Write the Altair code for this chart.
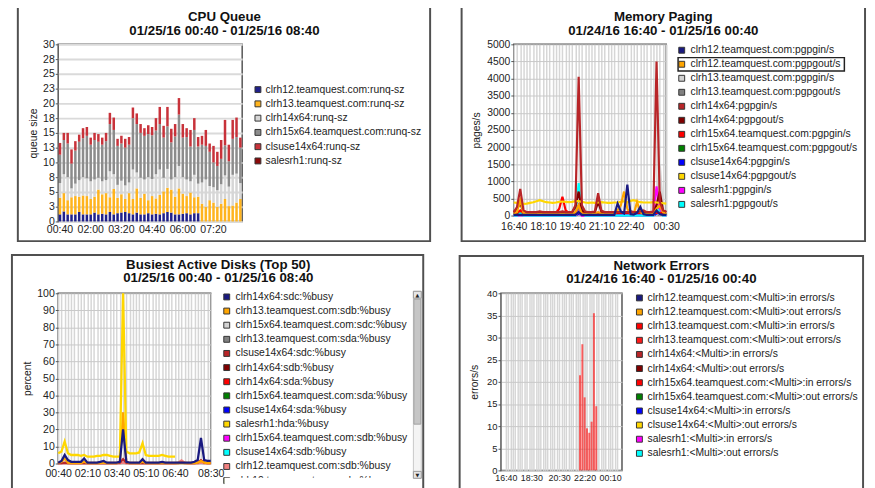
import altair as alt
import pandas as pd
from datetime import datetime, timedelta

FONT = "Liberation Sans"

# ---------------------------------------------------------------- CPU Queue
cpu_series = ["clrh12.teamquest.com:runq-sz", "clrh13.teamquest.com:runq-sz", "clrh14x64:runq-sz",
              "clrh15x64.teamquest.com:runq-sz", "clsuse14x64:runq-sz", "salesrh1:runq-sz"]
cpu_colors = ["#20208a", "#ffb41e", "#d6d6d6", "#8c8c8c", "#c8323a", "#8b0a0a"]
cpu_y_ticks = [0, 2.5, 5, 7.5, 10, 12.5, 15, 17.5, 20, 22.5, 25, 27.5, 30]
cpu_x_labels = ["00:40", "02:00", "03:20", "04:40", "06:00", "07:20"]
# cumulative tops of each stacked segment
cpu_clrh12_top = [1.2, 1.7, 1.2, 1.2, 1.2, 1.6, 1.2, 1.2, 1.2, 1.5, 1.2, 1.3, 1.2, 1.6, 1.2, 1.4,
                  1.5, 1.6, 1.4, 1.2, 1.5, 1.2, 1.2, 1.4, 1.2, 1.3, 1.2, 1.4, 1.6, 1.5, 1.2, 1.2,
                  1.3, 1.4, 1.2, 1.4, 1.4, 0, 0, 0, 0, 0, 0, 0, 0, 0, 0, 0]
cpu_clrh13_top = [4.0, 4.8, 3.6, 4.1, 4.3, 4.2, 4.4, 4.3, 3.8, 4.2, 5.4, 4.6, 4.8, 4.1, 5.5, 4.0,
                  4.6, 3.8, 4.8, 3.8, 5.6, 4.0, 4.7, 3.6, 4.3, 3.9, 4.5, 5.1, 5.7, 5.4, 4.2, 5.6,
                  4.7, 4.3, 4.9, 4.1, 4.2, 3.0, 2.5, 3.6, 3.2, 2.5, 3.0, 3.8, 2.6, 2.7, 3.2, 3.8]
cpu_clrh14_top = [6.5, 8.0, 7.5, 5.6, 6.4, 7.0, 7.5, 7.3, 6.8, 7.1, 7.4, 6.8, 7.0, 8.5, 8.0, 6.2,
                  6.9, 6.1, 6.6, 8.8, 8.3, 7.4, 7.1, 7.5, 7.2, 8.0, 8.8, 7.4, 8.9, 7.1, 7.5, 9.4,
                  7.5, 7.1, 6.8, 7.9, 6.4, 6.6, 7.1, 6.0, 5.8, 5.3, 6.3, 7.8, 5.9, 7.9, 8.1, 6.5]
cpu_clrh15_top = [11.3, 13.8, 13.2, 9.8, 12.0, 13.5, 14.1, 14.5, 13.0, 13.8, 13.5, 13.0, 13.6, 16.5, 15.5, 12.8,
                  13.2, 12.5, 13.0, 17.5, 16.5, 15.0, 14.5, 14.8, 14.6, 15.4, 16.5, 14.2, 16.1, 13.4, 14.4, 18.1,
                  14.2, 14.3, 12.7, 15.5, 12.7, 13.0, 12.8, 11.8, 10.0, 9.4, 10.6, 12.9, 10.2, 14.0, 14.3, 12.5]
cpu_clsuse_top = [13.3, 15.0, 15.0, 12.2, 13.6, 14.7, 15.8, 16.0, 14.2, 15.0, 14.8, 14.2, 15.0, 18.4, 17.6, 14.0,
                  14.5, 14.0, 14.3, 19.3, 18.3, 16.5, 15.8, 16.3, 16.0, 17.5, 19.4, 16.2, 19.4, 15.7, 16.5, 20.9,
                  16.5, 15.8, 15.5, 17.5, 14.3, 14.5, 15.5, 13.2, 12.8, 11.8, 13.8, 17.2, 13.0, 17.2, 17.6, 14.2]

# ---------------------------------------------------------------- Memory Paging
mem_series = ["clrh12.teamquest.com:pgpgin/s", "clrh12.teamquest.com:pgpgout/s", "clrh13.teamquest.com:pgpgin/s",
              "clrh13.teamquest.com:pgpgout/s", "clrh14x64:pgpgin/s", "clrh14x64:pgpgout/s",
              "clrh15x64.teamquest.com:pgpgin/s", "clrh15x64.teamquest.com:pgpgout/s", "clsuse14x64:pgpgin/s",
              "clsuse14x64:pgpgout/s", "salesrh1:pgpgin/s", "salesrh1:pgpgout/s"]
mem_colors = ["#1a1a80", "#ffa500", "#d3d3d3", "#808080", "#b82528", "#800000",
              "#ff0000", "#008000", "#0000ff", "#ffd700", "#ff00ff", "#00ffff"]
mem_y_ticks = [0, 500, 1000, 1500, 2000, 2500, 3000, 3500, 4000, 4500, 5000]
mem_x_labels = ["16:40", "18:10", "19:40", "21:10", "22:40", "00:30"]
mem_values = {
    "clrh12.teamquest.com:pgpgin/s": [20, 20, 20, 20, 20, 20, 20, 20, 20, 20, 20, 20, 20, 20, 20, 20, 20, 20, 20, 20,
                                      100, 20, 20, 20, 20, 20, 20, 20, 20, 20, 20, 20, 350, 120, 60, 900, 40, 30, 80, 250,
                                      40, 20, 20, 20, 150, 40, 20, 20],
    "clrh12.teamquest.com:pgpgout/s": [50, 100, 450, 80, 50, 50, 50, 50, 50, 50, 50, 50, 50, 50, 50, 50, 50, 50, 50, 100,
                                       300, 50, 50, 50, 50, 50, 100, 50, 50, 50, 50, 50, 150, 300, 700, 200, 50, 50, 400, 100,
                                       50, 50, 50, 50, 200, 300, 100, 50],
    "clrh13.teamquest.com:pgpgin/s": [10, 10, 60, 10, 10, 10, 10, 10, 10, 10, 10, 10, 10, 10, 10, 10, 10, 10, 10, 10,
                                      250, 10, 10, 10, 10, 10, 80, 10, 10, 10, 10, 10, 10, 10, 10, 10, 10, 10, 10, 10,
                                      10, 10, 10, 10, 300, 1500, 200, 10],
    "clrh13.teamquest.com:pgpgout/s": [5, 5, 40, 5, 5, 5, 5, 5, 5, 5, 5, 5, 5, 5, 5, 5, 5, 5, 5, 5,
                                       150, 5, 5, 5, 5, 5, 50, 5, 5, 5, 5, 5, 5, 5, 5, 5, 5, 5, 5, 5,
                                       5, 5, 5, 5, 150, 300, 80, 5],
    "clrh14x64:pgpgin/s": [100, 250, 780, 150, 100, 100, 100, 100, 120, 100, 100, 100, 100, 100, 100, 120, 100, 100, 100, 300,
                           4050, 300, 120, 100, 100, 120, 650, 150, 100, 100, 100, 100, 100, 100, 100, 100, 100, 100, 100, 120,
                           150, 100, 100, 120, 4500, 400, 150, 120],
    "clrh14x64:pgpgout/s": [100, 200, 350, 120, 100, 100, 100, 100, 100, 100, 100, 100, 100, 100, 100, 100, 100, 100, 100, 250,
                            700, 150, 100, 100, 100, 100, 400, 120, 100, 100, 100, 100, 100, 100, 100, 100, 120, 100, 100, 100,
                            100, 100, 100, 100, 300, 700, 150, 100],
    "clrh15x64.teamquest.com:pgpgin/s": [80, 80, 150, 80, 80, 80, 80, 80, 80, 80, 80, 80, 80, 80, 200, 550, 150, 80, 80, 80,
                                         300, 80, 80, 80, 80, 80, 80, 80, 80, 80, 80, 80, 80, 80, 80, 80, 80, 80, 80, 80,
                                         80, 80, 80, 80, 80, 80, 80, 80],
    "clrh15x64.teamquest.com:pgpgout/s": [30, 30, 60, 30, 30, 30, 30, 30, 30, 30, 30, 30, 30, 30, 30, 30, 30, 30, 30, 30,
                                          80, 30, 30, 30, 30, 30, 40, 30, 30, 30, 30, 30, 40, 50, 60, 40, 30, 30, 40, 30,
                                          30, 30, 30, 30, 80, 120, 60, 30],
    "clsuse14x64:pgpgin/s": [10, 10, 20, 10, 10, 10, 10, 10, 10, 10, 10, 10, 10, 10, 10, 10, 10, 10, 10, 10,
                             50, 10, 10, 10, 10, 10, 10, 10, 10, 10, 10, 10, 10, 10, 10, 10, 10, 10, 10, 10,
                             10, 10, 10, 10, 60, 80, 20, 10],
    "clsuse14x64:pgpgout/s": [380, 370, 350, 340, 350, 370, 390, 420, 450, 420, 390, 380, 370, 380, 400, 410, 400, 390, 400, 420,
                              420, 400, 380, 370, 380, 370, 380, 390, 380, 370, 370, 380, 380, 400, 420, 380, 430, 450, 420, 390,
                              380, 380, 380, 390, 380, 370, 360, 350],
    "salesrh1:pgpgin/s": [0, 0, 20, 0, 0, 0, 0, 0, 0, 0, 0, 0, 0, 0, 0, 0, 0, 0, 0, 0,
                          100, 0, 0, 0, 0, 0, 0, 0, 0, 0, 0, 0, 0, 0, 0, 0, 0, 0, 0, 0,
                          0, 0, 0, 0, 850, 200, 0, 0],
    "salesrh1:pgpgout/s": [0, 0, 50, 0, 0, 0, 0, 0, 0, 0, 0, 0, 0, 0, 0, 0, 0, 0, 0, 0,
                           950, 100, 0, 0, 0, 0, 0, 0, 0, 0, 0, 0, 0, 0, 0, 0, 0, 0, 0, 0,
                           0, 0, 0, 0, 200, 100, 0, 0],
}
mem_draw_order = [2, 3, 7, 8, 10, 11, 6, 5, 9, 1, 4, 0]

# ---------------------------------------------------------------- Busiest Active Disks
disk_series = ["clrh14x64:sdc:%busy", "clrh13.teamquest.com:sdb:%busy", "clrh15x64.teamquest.com:sdc:%busy",
               "clrh13.teamquest.com:sda:%busy", "clsuse14x64:sdc:%busy", "clrh14x64:sdb:%busy",
               "clrh14x64:sda:%busy", "clrh15x64.teamquest.com:sda:%busy", "clsuse14x64:sda:%busy",
               "salesrh1:hda:%busy", "clrh15x64.teamquest.com:sdb:%busy", "clsuse14x64:sdb:%busy",
               "clrh12.teamquest.com:sdb:%busy", "clrh12.teamquest.com:sda:%busy"]
disk_colors = ["#1a1a80", "#ffa500", "#d3d3d3", "#808080", "#b82528", "#800000", "#ff0000", "#008000",
               "#0000ff", "#ffd700", "#ff00ff", "#00ffff", "#f08080", "#556b2f"]
disk_y_ticks = [0, 10, 20, 30, 40, 50, 60, 70, 80, 90, 100]
disk_x_labels = ["00:40", "02:10", "03:40", "05:10", "06:40", "08:30"]
disk_values = {
    "clrh12.teamquest.com:sdb:%busy": [0.1, 0.1, 0.1, 0.1, 0.1, 0.1, 0.1, 0.1, 0.1, 0.1, 0.1, 0.1, 0.1, 0.1, 0.1, 0.1,
                                       0.1, 0.1, 0.1, 0.1, 0.5, 0.1, 0.1, 0.1, 0.1, 0.1, 0.1, 0.1, 0.1, 0.1, 0.1, 0.1,
                                       0.1, 0.1, 0.1, 0.1, 0.1, 0.5, 1.8, 0.5, 0.1, 0.1, 0.1, 0.1, 0.5, 0.1, 0.1, 0.1],
    "clsuse14x64:sdc:%busy": [0.2, 0.2, 0.5, 0.2, 0.2, 0.2, 0.2, 0.2, 0.2, 0.2, 0.2, 0.2, 0.2, 0.2, 0.2, 0.2,
                              0.2, 0.2, 0.2, 0.5, 2.5, 0.5, 0.2, 0.2, 0.2, 0.2, 0.2, 0.2, 0.2, 0.2, 0.2, 0.2,
                              0.2, 0.2, 0.2, 0.2, 0.2, 0.2, 0.5, 0.2, 0.2, 0.2, 0.2, 0.5, 2.0, 0.5, 0.2, 0.2],
    "clrh13.teamquest.com:sdb:%busy": [0.3, 1, 3, 0.5, 0.3, 0.3, 0.3, 0.3, 1, 0.3, 0.3, 0.3, 0.3, 0.3, 0.5, 0.3,
                                       0.3, 0.3, 0.3, 1, 30, 1, 0.3, 0.3, 0.3, 0.3, 1, 0.3, 0.3, 0.3, 0.3, 0.3,
                                       0.3, 0.3, 0.3, 0.3, 0.3, 0.3, 0.3, 0.3, 0.3, 0.3, 0.3, 0.5, 1.5, 0.5, 0.3, 0.3],
    "salesrh1:hda:%busy": [6, 7, 13, 6, 5, 5, 5, 4.5, 5, 4, 4, 4, 4.5, 4.5, 5, 5,
                           4.5, 4, 4, 4, 100, 7, 6, 6, 6, 6.5, 12, 5, 4.5, 4.5, 4.5, 4.5,
                           5, 4.5, 4, 4, 4, None, None, None, None, None, None, None, None, None, None, None],
    "clrh14x64:sdc:%busy": [0.5, 1.5, 5, 2, 1, 1, 1, 1, 3, 0.5, 0.5, 0.5, 0.5, 1, 1.5, 0.5,
                            0.5, 0.5, 0.5, 1, 20, 1, 0.5, 0.5, 0.5, 0.5, 2.5, 0.5, 0.5, 0.5, 0.5, 0.5,
                            1, 0.5, 0.5, 0.5, 0.5, 0.5, 0.5, 0.5, 0.5, 0.5, 1, 2, 15, 2, 1.5, 1.5],
}

# ---------------------------------------------------------------- Network Errors
net_series = ["clrh12.teamquest.com:<Multi>:in errors/s", "clrh12.teamquest.com:<Multi>:out errors/s",
              "clrh13.teamquest.com:<Multi>:in errors/s", "clrh13.teamquest.com:<Multi>:out errors/s",
              "clrh14x64:<Multi>:in errors/s", "clrh14x64:<Multi>:out errors/s",
              "clrh15x64.teamquest.com:<Multi>:in errors/s", "clrh15x64.teamquest.com:<Multi>:out errors/s",
              "clsuse14x64:<Multi>:in errors/s", "clsuse14x64:<Multi>:out errors/s",
              "salesrh1:<Multi>:in errors/s", "salesrh1:<Multi>:out errors/s"]
net_colors = ["#1a1a80", "#ffa500", "#ff0000", "#ff1a1a", "#b82528", "#800000",
              "#ff0000", "#008000", "#0000ff", "#ffd700", "#ff00ff", "#00ffff"]
net_y_ticks = [0, 5, 10, 15, 20, 25, 30, 35, 40]
net_x_labels = ["16:40", "18:30", "20:30", "22:20", "00:10"]
net_bar_times = ["22:00", "22:10", "22:20", "22:30", "22:40", "22:50", "23:00", "23:10"]
net_bar_values = [21.5, 28.5, 16.5, 9.5, 8.5, 11.0, 35.5, 14.5]


# ================================================================ helpers
def times_from(start, n):
    return [start + timedelta(minutes=10 * i) for i in range(n)]


def dt(d):
    return alt.DateTime(year=d.year, month=d.month, date=d.day, hours=d.hour, minutes=d.minute)


def iso(d):
    return d.strftime("%Y-%m-%dT%H:%M:00")


def label_expr(labels):
    arr = "[" + ",".join("'%s'" % s for s in labels) + "]"
    f = "timeFormat(datum.value, '%H:%M')"
    return "indexof(%s, %s) >= 0 ? %s : ''" % (arr, f, f)


ONE = pd.DataFrame({"k": [0]})


def frame(box, origin, titles):
    ox, oy = origin
    layers = [alt.Chart(ONE).mark_rect(fillOpacity=0, stroke="#505050", strokeWidth=2).encode(
        x=alt.value(box[0] - ox), x2=alt.value(box[2] - ox),
        y=alt.value(box[1] - oy), y2=alt.value(box[3] - oy))]
    for txt, tx, ty in titles:
        layers.append(alt.Chart(ONE).mark_text(font=FONT, fontSize=13.5, fontWeight="bold", color="#111",
                                               baseline="middle", align="center").encode(
            x=alt.value(tx - ox), y=alt.value(ty - oy), text=alt.value(txt)))
    return layers


def legend_layers(names, colors, sym_x, row0, spacing, gap, origin):
    ox, oy = origin
    df = pd.DataFrame({"s": names})
    yenc = alt.Y("s:N", scale=alt.Scale(type="point", domain=names, padding=0,
                                        range=[row0 - oy, row0 + spacing * (len(names) - 1) - oy]),
                 axis=None)
    squares = alt.Chart(df).mark_square(opacity=1, stroke="#333", strokeWidth=1, size=36).encode(
        x=alt.value(sym_x - ox), y=yenc,
        color=alt.Color("s:N", scale=alt.Scale(domain=names, range=colors), legend=None))
    labels = alt.Chart(df).mark_text(font=FONT, fontSize=10.5, color="#222", align="left",
                                     baseline="middle").encode(
        x=alt.value(sym_x + 3.5 + gap - ox), y=yenc, text=alt.Text("s:N"))
    return [squares, labels]


def y_axis(values, title, tpad, grid_color="#c8c8c8", grid_width=1, fmt="d", lsize=10.7):
    return alt.Axis(values=values, title=title, format=fmt, grid=True, gridColor=grid_color,
                    gridWidth=grid_width, domain=False, tickSize=3, tickColor="#555", labelPadding=1,
                    labelFont=FONT, labelFontSize=lsize, labelColor="#222", titleFont=FONT,
                    titleFontSize=10.5, titleFontWeight="normal", titleColor="#222",
                    titlePadding=tpad, zindex=0)


def x_time_axis(grid_times, labels, lpad, lsize=10.7):
    return alt.Axis(values=[dt(d) for d in grid_times], labelExpr=label_expr(labels), title=None,
                    grid=True, gridColor="#d6d6d6", gridWidth=1.5, ticks=False, tickSize=0, domain=False,
                    labelOverlap=False, labelFlush=False, labelBound=False, labelPadding=lpad,
                    labelFont=FONT, labelFontSize=lsize, labelColor="#222", labelAngle=0, zindex=0)


def rect(x0, y0, x1, y1, fill, stroke, o, sw=1):
    return alt.Chart(ONE).mark_rect(fill=fill, stroke=stroke, strokeWidth=sw).encode(
        x=alt.value(x0 - o[0]), x2=alt.value(x1 - o[0]), y=alt.value(y0 - o[1]), y2=alt.value(y1 - o[1]))


def glyph(ch, x, y, o):
    return alt.Chart(ONE).mark_text(font="DejaVu Sans", fontSize=5, color="#222").encode(
        x=alt.value(x - o[0]), y=alt.value(y - o[1]), text=alt.value(ch))


# ================================================================ Panel 1: CPU Queue
o1 = (52, 44)
cpu_start = datetime(2016, 1, 25, 0, 40)
cpu_times = [d.strftime("%H:%M") for d in times_from(cpu_start, 48)]
cpu_tops = [cpu_clrh12_top, cpu_clrh13_top, cpu_clrh14_top, cpu_clrh15_top, cpu_clsuse_top]
cpu_rows = []
for i, t in enumerate(cpu_times):
    lo = 0.0
    for k, tops in enumerate(cpu_tops):
        hi = tops[i]
        if hi > lo:
            cpu_rows.append({"t": t, "s": cpu_series[k], "lo": lo, "hi": hi})
            lo = hi
cpu_df = pd.DataFrame(cpu_rows)

cpu_bars = alt.Chart(cpu_df).mark_bar().encode(
    x=alt.X("t:O", scale=alt.Scale(domain=cpu_times, paddingInner=0.35, paddingOuter=0.15),
            axis=alt.Axis(values=cpu_x_labels, title=None, labelAngle=0, ticks=False, tickSize=0,
                          domain=False, grid=False, labelPadding=3.5, labelFont=FONT,
                          labelFontSize=10.7, labelColor="#222", zindex=0)),
    y=alt.Y("lo:Q", scale=alt.Scale(domain=[0, 30], nice=False),
            axis=y_axis(cpu_y_ticks, "queue size", 4.5, grid_color="#dadada", grid_width=2, fmt=".0f")),
    y2="hi:Q",
    color=alt.Color("s:N", scale=alt.Scale(domain=cpu_series, range=cpu_colors), legend=None),
)
p1 = alt.layer(
    *frame((11, 6, 430, 244), o1, [("CPU Queue", 221, 16), ("01/25/16 00:40 - 01/25/16 08:40", 221, 30.7)]),
    cpu_bars,
    *legend_layers(cpu_series, cpu_colors, 255, 90, 14.5, 4.2, o1),
).resolve_scale(y="independent").properties(width=187, height=180)

# ================================================================ Panel 2: Memory Paging
o2 = (512, 44)
mem_start = datetime(2016, 1, 24, 16, 40)
mem_grid = times_from(mem_start, 48)
mem_rows = []
for k in mem_draw_order:
    name = mem_series[k]
    for d, v in zip(mem_grid, mem_values[name]):
        mem_rows.append({"t": iso(d), "s": name, "v": v})
mem_df = pd.DataFrame(mem_rows)

mem_lines = alt.Chart(mem_df).mark_line(strokeWidth=2.2).encode(
    x=alt.X("t:T", scale=alt.Scale(domain=[dt(mem_grid[0]), dt(mem_grid[-1])], nice=False),
            axis=x_time_axis(mem_grid, mem_x_labels, 6)),
    y=alt.Y("v:Q", scale=alt.Scale(domain=[0, 5000], nice=False),
            axis=y_axis(mem_y_ticks, "pages/s", 5, lsize=10.5)),
    color=alt.Color("s:N", scale=alt.Scale(domain=mem_series, range=mem_colors), legend=None),
)
mem_focus = alt.Chart(ONE).mark_rect(fillOpacity=0, stroke="#222", strokeWidth=1.5).encode(
    x=alt.value(679 - o2[0]), x2=alt.value(848 - o2[0]), y=alt.value(57.5 - o2[1]), y2=alt.value(71 - o2[1]))
p2 = alt.layer(
    *frame((459, 6, 869, 244), o2, [("Memory Paging", 664, 16.7), ("01/24/16 16:40 - 01/25/16 00:40", 664, 31)]),
    mem_lines,
    mem_focus,
    *legend_layers(mem_series, mem_colors, 682.7, 50, 14.24, 5.5, o2),
).resolve_scale(y="independent").properties(width=155, height=174)

# ================================================================ Panel 3: Busiest Active Disks
o3 = (58, 294)
disk_start = datetime(2016, 1, 25, 0, 40)
disk_grid = times_from(disk_start, 48)
disk_rows = []
for name, vals in disk_values.items():
    for d, v in zip(disk_grid, vals):
        if v is not None:
            disk_rows.append({"t": iso(d), "s": name, "v": v})
disk_df = pd.DataFrame(disk_rows)

disk_lines = alt.Chart(disk_df).mark_line(strokeWidth=2.3).encode(
    x=alt.X("t:T", scale=alt.Scale(domain=[dt(disk_grid[0]), dt(disk_grid[-1])], nice=False),
            axis=x_time_axis(disk_grid, disk_x_labels, 5.5)),
    y=alt.Y("v:Q", scale=alt.Scale(domain=[0, 100], nice=False),
            axis=y_axis(disk_y_ticks, "percent", 4.5)),
    color=alt.Color("s:N", scale=alt.Scale(domain=disk_series, range=disk_colors), legend=None),
)

scroll = [
    rect(227, 481.5, 418, 492, "white", "white", o3, 0),
    rect(419, 292, 427, 482, "#f4f4f4", "#c8c8c8", o3),
    rect(419, 292, 427, 299, "#e6e6e6", "#999999", o3),
    rect(419.5, 300, 426.5, 427, "#c6c6c6", "#a0a0a0", o3),
    rect(419, 475, 427, 482, "#e6e6e6", "#999999", o3),
    glyph("\u25b2", 423, 295.5, o3),
    glyph("\u25bc", 423, 478.5, o3),
]
p3 = alt.layer(
    *frame((11, 255, 429, 493), o3, [("Busiest Active Disks (Top 50)", 220.7, 265.7),
                                     ("01/25/16 00:40 - 01/25/16 08:40", 220.7, 278.3)]),
    disk_lines,
    *legend_layers(disk_series, disk_colors, 229.3, 297.7, 14.36, 5.5, o3),
    *scroll,
).resolve_scale(y="independent").properties(width=155, height=173)

# ================================================================ Panel 4: Network Errors
o4 = (501, 293)
net_start = datetime(2016, 1, 24, 16, 40)
net_grid = times_from(net_start, 49)
net_rows = []
for t, v in zip(net_bar_times, net_bar_values):
    hh, mm = [int(p) for p in t.split(":")]
    d = datetime(2016, 1, 24, hh, mm)
    net_rows.append({"t": iso(d), "s": net_series[2], "v": v})
net_df = pd.DataFrame(net_rows)

net_bars = alt.Chart(net_df).mark_bar(width=2, opacity=0.6).encode(
    x=alt.X("t:T", scale=alt.Scale(domain=[dt(net_grid[0]), dt(net_grid[-1])], nice=False),
            axis=x_time_axis(net_grid, net_x_labels, 3, lsize=9)),
    y=alt.Y("v:Q", scale=alt.Scale(domain=[0, 40], nice=False),
            axis=y_axis(net_y_ticks, "errors/s", 7.5, lsize=9.6)),
    color=alt.Color("s:N", scale=alt.Scale(domain=net_series, range=net_colors), legend=None),
)
p4 = alt.layer(
    *frame((459, 255, 869, 493), o4, [("Network Errors", 664, 265.7), ("01/24/16 16:40 - 01/25/16 00:40", 664, 278.3)]),
    net_bars,
    *legend_layers(net_series, net_colors, 641.7, 297.7, 14.36, 4.8, o4),
).resolve_scale(y="independent").properties(width=123, height=180)

# ================================================================ assemble
row1 = alt.hconcat(p1, p2, spacing=28).resolve_scale(color="independent")
row2 = alt.hconcat(p3, p4, spacing=33).resolve_scale(color="independent")
chart = alt.vconcat(row1, row2, spacing=10).resolve_scale(color="independent").properties(
    padding={"left": 2, "top": -7, "right": 0, "bottom": -5},
    background="white",
).configure(font=FONT).configure_view(stroke="#555", strokeWidth=1.5)

chart.save("out.html", embed_options={"renderer": "svg", "actions": False})
